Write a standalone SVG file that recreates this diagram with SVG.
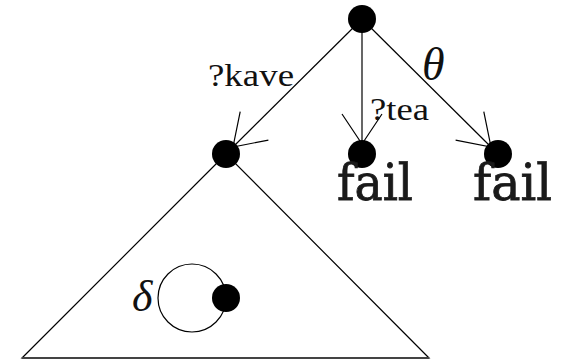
<svg xmlns="http://www.w3.org/2000/svg" width="563" height="361" viewBox="0 0 563 361">
<defs>
<marker id="arr" markerUnits="userSpaceOnUse" orient="auto" markerWidth="40" markerHeight="40" refX="0" refY="0" viewBox="-35 -20 40 40" overflow="visible">
<path d="M-30,-20 L0,0 L-30,20" fill="none" stroke="#000" stroke-width="1.2"/>
</marker>
<style>
.edge{stroke:#000;stroke-width:1.2;fill:none}
.node{fill:#000}
.lbl{font-family:"Liberation Serif","Times New Roman",serif;fill:#111}
.fail{font-family:"DejaVu Serif",serif;fill:#1a1a1a;stroke:#1a1a1a;stroke-width:0.8}
.math{font-family:"Liberation Serif","Times New Roman",serif;font-style:italic;fill:#111}
</style>
</defs>
<rect width="563" height="361" fill="#fff"/>
<g id="connectors">
<line class="edge" x1="362" y1="19" x2="233" y2="147" marker-end="url(#arr)"/>
<line class="edge" x1="362" y1="19" x2="362" y2="144" marker-end="url(#arr)"/>
<line class="edge" x1="362" y1="19" x2="491" y2="147" marker-end="url(#arr)"/>
<path class="edge" d="M226,154 L22,358 L429,358 Z" stroke-width="1"/>
<line x1="22" y1="358" x2="429" y2="358" stroke="#444" stroke-width="2"/>
<circle class="edge" cx="192" cy="298" r="34" stroke-width="1"/>
</g>
<g id="root"><circle class="node" cx="362" cy="19" r="14"/></g>
<g id="left"><circle class="node" cx="226" cy="154" r="14"/></g>
<g id="middle"><circle class="node" cx="362" cy="154" r="14"/><text class="fail" x="337" y="200" font-size="50" textLength="76" lengthAdjust="spacingAndGlyphs">fail</text></g>
<g id="right"><circle class="node" cx="498" cy="154" r="14"/><text class="fail" x="473" y="200" font-size="50" textLength="79" lengthAdjust="spacingAndGlyphs">fail</text></g>
<g id="loopnode"><circle class="node" cx="226" cy="298" r="14"/></g>
<g id="labels">
<text class="lbl" x="208" y="86" font-size="31" textLength="86" lengthAdjust="spacingAndGlyphs">?kave</text>
<text class="lbl" x="370" y="120" font-size="31" textLength="59" lengthAdjust="spacingAndGlyphs">?tea</text>
<text class="math" x="422" y="80" font-size="46">θ</text>
<text class="math" x="132" y="311" font-size="44">δ</text>
</g>
</svg>
